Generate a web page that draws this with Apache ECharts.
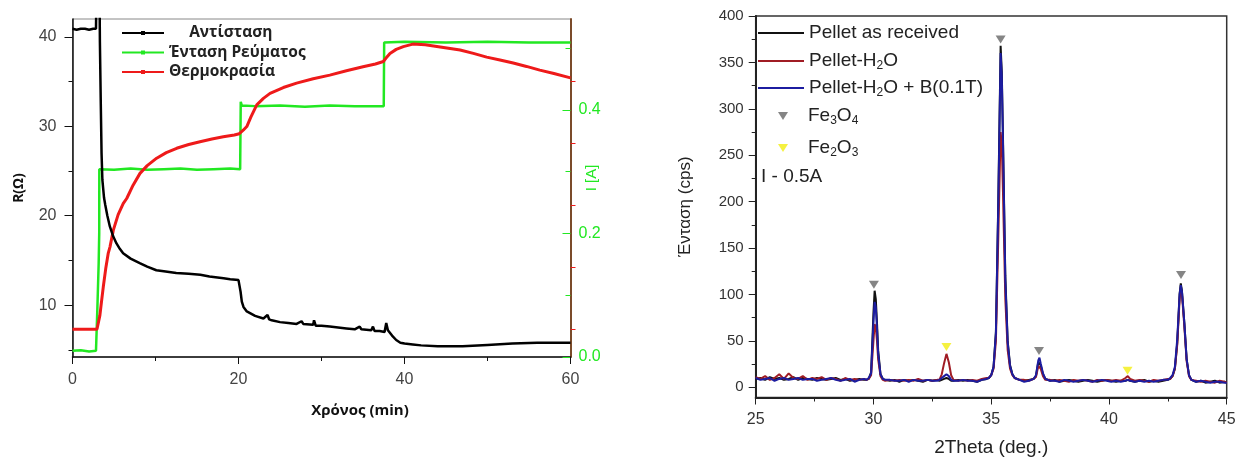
<!DOCTYPE html>
<html><head><meta charset="utf-8">
<script src="https://cdn.jsdelivr.net/npm/echarts@6/dist/echarts.min.js"></script>
<style>html,body{margin:0;padding:0;background:#fff}#c{width:1251px;height:459px}</style>
</head><body><div id="c"></div><script>
// ---------- Left panel data: [time (min), value] ----------
const resistance = [[0,40.9],[0.5,40.8],[1,40.9],[1.5,40.9],[2,40.8],[2.5,40.9],[2.83,40.9],[2.9,46],[3.25,46],[3.3,39.5],[3.4,33],[3.5,27],[3.6,24],[3.8,22],[3.95,21.2],[4.2,20],[4.5,18.8],[4.9,17.7],[5.3,16.9],[5.7,16.3],[6.1,15.8],[7,15.2],[8.1,14.7],[9,14.3],[10.1,13.9],[11,13.8],[12.5,13.6],[14,13.5],[15.4,13.4],[16.5,13.2],[18.2,13.0],[19,12.9],[20,12.8],[20.15,12.7],[20.25,11.5],[20.4,10.4],[20.6,9.8],[21,9.3],[22,8.8],[23,8.5],[23.5,8.9],[23.7,8.4],[24,8.3],[25,8.1],[26,8.0],[27,7.9],[27.6,8.2],[27.8,7.9],[28,7.8],[29,7.8],[29.1,8.3],[29.3,7.7],[30,7.7],[31,7.6],[32,7.5],[33,7.4],[34,7.3],[34.6,7.6],[34.8,7.3],[35,7.2],[36,7.2],[36.2,7.6],[36.4,7.1],[37,7.1],[37.6,7.0],[37.8,8.0],[38,7.2],[38.5,6.6],[39,6.1],[39.5,5.8],[40,5.7],[41,5.6],[42,5.5],[44,5.4],[47,5.4],[50,5.55],[53,5.7],[56,5.8],[58,5.8],[60,5.8]];
const current = [[0,0.01],[1,0.011],[2,0.009],[2.83,0.01],[3.0,0.08],[3.15,0.15],[3.22,0.2],[3.23,0.304],[5,0.303],[7,0.305],[9,0.303],[11,0.304],[13,0.305],[15,0.303],[17,0.304],[19,0.305],[20.2,0.304],[20.27,0.413],[20.4,0.407],[22,0.406],[25,0.407],[28,0.405],[31,0.407],[34,0.406],[37.5,0.406],[37.55,0.509],[40,0.51],[45,0.509],[50,0.51],[55,0.509],[60,0.509]];
const temperature = [[0,20],[1,20],[2,20],[2.95,20],[3.1,20.4],[3.3,24.5],[3.52,29.5],[3.71,33.7],[4.0,39.5],[4.31,44.6],[4.52,46.6],[4.92,52.0],[5.5,57],[6.12,60.6],[6.53,62.2],[7.3,66.5],[8.13,70.3],[9,72.8],[10.14,75.2],[11.3,77],[12.55,78.4],[14,79.6],[15.36,80.5],[16.8,81.4],[18.17,82.1],[19.5,82.7],[20.1,83.1],[20.3,83.5],[20.6,84.3],[21,85.4],[21.5,88.5],[22.2,92.4],[23,94.5],[23.8,96.1],[25.4,98],[27,99.4],[29,100.8],[31,102],[33,103.4],[35,104.7],[36.5,105.6],[37.45,106.4],[37.8,107.6],[38.25,109],[39,110.3],[39.86,111.2],[41,112],[42.5,111.8],[44.3,111.1],[46.7,110.1],[48.3,109],[49.9,107.8],[51.5,106.9],[53.1,105.9],[54.7,104.8],[56.3,103.6],[58,102.5],[60,101.1]];

// ---------- Right panel data (XRD) ----------
const twoTheta = [25.0,25.2,25.4,25.6,25.8,26.0,26.2,26.4,26.6,26.8,27.0,27.2,27.4,27.6,27.8,28.0,28.2,28.4,28.6,28.8,29.0,29.2,29.4,29.6,
  29.7,29.8,29.9,30.0,30.05,30.1,30.15,30.2,30.3,30.4,30.5,
  30.7,30.9,31.1,31.3,31.5,31.7,31.9,32.1,32.3,32.5,32.7,
  32.8,32.9,33.0,33.1,33.2,33.3,33.4,
  33.6,33.8,34.0,34.2,34.4,34.6,34.8,
  34.9,35.0,35.1,35.2,35.3,35.4,35.45,35.5,35.6,35.7,35.8,35.9,36.0,36.2,
  36.4,36.6,36.8,
  36.9,37.0,37.05,37.1,37.2,37.3,
  37.5,37.7,37.9,38.1,38.3,38.5,38.7,38.9,39.1,39.3,39.5,39.7,39.9,40.1,40.3,40.5,
  40.7,40.8,40.9,
  41.1,41.3,41.5,41.7,41.9,42.1,42.3,42.5,
  42.6,42.7,42.8,42.9,43.0,43.05,43.1,43.2,43.3,43.4,43.5,
  43.7,43.9,44.1,44.3,44.5,44.7,44.9,45.0];
const asReceived = [9,10,8,11,9,10,8,9,11,8,10,9,8,10,9,8,9,10,8,9,7,8,9,8,
  8,9,16,80,104,95,70,40,14,9,8,
  7,8,6,8,7,8,7,6,8,7,8,
  7,8,9,10,9,7,7,
  8,7,8,7,6,8,9,
  10,13,22,60,200,368,340,270,120,50,24,14,10,8,
  7,8,9,
  12,27,29,24,14,9,
  7,8,6,7,8,7,6,7,8,7,6,7,8,7,6,7,
  7,8,7,
  6,7,8,6,7,6,7,8,
  9,12,20,48,100,112,104,70,30,13,8,
  6,7,5,6,7,5,6,5];
const pelletH2O = [11,9,12,8,10,14,9,15,10,9,12,8,10,9,11,8,10,9,7,10,8,9,8,9,
  8,9,13,50,68,64,50,30,12,8,7,
  8,7,8,7,8,7,9,7,8,7,8,
  8,14,26,36,27,13,8,
  7,8,7,8,7,9,10,
  10,13,20,50,160,275,262,210,95,40,20,13,10,8,
  8,7,9,
  11,23,25,20,12,8,
  8,7,8,7,6,8,7,8,7,6,8,7,8,7,8,7,
  10,12,9,
  7,8,7,6,8,7,8,9,
  9,12,20,46,95,106,100,66,28,12,8,
  7,6,7,6,5,7,6,5];
const pelletH2OB = [10,8,9,10,7,9,10,8,9,10,8,9,9,7,8,9,10,8,7,8,9,6,8,9,
  8,10,15,70,92,86,64,36,14,9,8,
  8,7,7,8,6,8,7,7,8,7,7,
  8,10,12,14,12,8,7,
  7,8,7,7,6,8,9,
  10,13,22,58,195,360,335,265,115,48,23,14,10,8,
  6,7,9,
  13,29,32,26,15,9,
  7,7,6,8,7,6,7,8,7,6,7,8,7,6,7,6,
  7,8,7,
  6,7,6,7,6,7,8,8,
  10,13,22,52,100,110,103,70,30,13,8,
  6,7,6,5,6,6,5,5];
const fe3o4Peaks = [[30.02,110.6],[35.4,374.7],[37.03,39],[43.06,121]];
const fe2o3Peaks = [[33.1,43.5],[40.79,17.8]];

// tick labels
const rLabels = [10,20,30,40], rMinor = [5,15,25,35];
const iLabels = [0,0.2,0.4], iMinor = [0.1,0.3,0.5];
const tTicks = [20,40,60,80,100];
const cpsLabels = [0,50,100,150,200,250,300,350,400], cpsMinor = [25,75,125,175,225,275,325,375];

const zip = (xs, ys) => xs.map((x, i) => [x, ys[i]]);
const SANS = '"Liberation Sans", Arial, sans-serif';
const BOLD = '"Open Sans", "Noto Sans", sans-serif';
const GREEN = '#22e822', RED = '#ee1a1a', BROWN = '#7b4b2a';
const TRI = 'path://M0,0 L10,0 L5,8 Z';

const chart = echarts.init(document.getElementById('c'));
const rich = {n:{fontSize:19,lineHeight:22,fontFamily:SANS,color:'#222'},
              s:{fontSize:12,lineHeight:12,verticalAlign:'bottom',fontFamily:SANS,color:'#222'},
              p:{width:15}};
const legendName = {
  'Pellet as received':'{n|Pellet as received}',
  'Pellet-H2O':'{n|Pellet-H}{s|2}{n|O}',
  'Pellet-H2O + B(0.1T)':'{n|Pellet-H}{s|2}{n|O + B(0.1T)}',
  'Fe3O4':'{p|}{n|Fe}{s|3}{n|O}{s|4}',
  'Fe2O3':'{p|}{n|Fe}{s|2}{n|O}{s|3}'
};
function lineLegend(name, top){
  return {data:[name], left:757, top:top, padding:0, itemWidth:46, itemHeight:12,
    itemStyle:{opacity:0}, formatter:n=>legendName[n], textStyle:{rich:rich}, selectedMode:false};
}
function markLegend(name, top){
  return {data:[name], left:778, top:top, padding:0, itemWidth:10, itemHeight:8,
    formatter:n=>legendName[n], textStyle:{rich:rich}, selectedMode:false};
}
chart.setOption({
  animation:false,
  backgroundColor:'#fff',
  grid:[
    {left:72.5, top:19, width:498, height:338, show:true, borderColor:'#888', borderWidth:1, outerBoundsMode:'none', containLabel:false},
    {left:755.7, top:16, width:471, height:381.5, show:true, borderColor:'#333', borderWidth:1.5, outerBoundsMode:'none', containLabel:false}
  ],
  legend:[
    {data:['Αντίσταση','Ένταση Ρεύματος','Θερμοκρασία'], orient:'vertical', left:121, top:25, padding:0,
     itemWidth:42, itemHeight:5, itemGap:3.5, selectedMode:false,
     formatter:n=> n==='Αντίσταση' ? '     '+n : n,
     textStyle:{fontFamily:BOLD, fontWeight:'bold', fontSize:15.5, color:'#222'}},
    lineLegend('Pellet as received', 23.5),
    lineLegend('Pellet-H2O', 51.5),
    lineLegend('Pellet-H2O + B(0.1T)', 78.5),
    markLegend('Fe3O4', 106.5),
    markLegend('Fe2O3', 138.5)
  ],
  graphic:[{type:'text', left:761, top:167, style:{text:'I - 0.5A', font:'19px '+SANS, fill:'#222'}}],
  xAxis:[
    {gridIndex:0, type:'value', min:0, max:60, interval:20,
     name:'Χρόνος (min)', nameLocation:'middle', nameGap:46, nameMoveOverlap:false,
     nameTextStyle:{fontFamily:BOLD, fontWeight:'bold', fontSize:15, color:'#111', padding:[0,0,0,77]},
     axisLine:{onZero:false, lineStyle:{color:'#111', width:1.5}},
     axisTick:{length:7, lineStyle:{color:'#111'}},
     minorTick:{show:true, splitNumber:2, length:4, lineStyle:{color:'#111'}},
     axisLabel:{fontFamily:SANS, fontSize:16, color:'#444', margin:15},
     splitLine:{show:false}},
    {gridIndex:1, type:'value', min:25, max:45, interval:5,
     name:'2Theta (deg.)', nameLocation:'middle', nameGap:41, nameMoveOverlap:false,
     nameTextStyle:{fontFamily:SANS, fontSize:19, color:'#222'},
     axisLine:{onZero:false, lineStyle:{color:'#222', width:2}},
     axisTick:{length:7, lineStyle:{color:'#222'}},
     minorTick:{show:true, splitNumber:2, length:4, lineStyle:{color:'#222'}},
     axisLabel:{fontFamily:SANS, fontSize:16, color:'#333', margin:14},
     splitLine:{show:false}}
  ],
  yAxis:[
    {gridIndex:0, type:'value', position:'left', min:4.2, max:42,
     name:'R(Ω)', nameLocation:'middle', nameGap:46, nameRotate:90, nameMoveOverlap:false,
     nameTextStyle:{fontFamily:BOLD, fontWeight:'bold', fontSize:14, color:'#111'},
     axisLine:{show:true, onZero:false, lineStyle:{color:'#111', width:1.5}},
     axisTick:{show:true, length:8, customValues:rLabels, lineStyle:{color:'#111'}},
     axisLabel:{customValues:rLabels, fontFamily:SANS, fontSize:16, color:'#444', margin:16},
     splitLine:{show:false}},
    {gridIndex:0, type:'value', position:'right', min:0, max:0.547,
     name:'I [A]', nameLocation:'middle', nameGap:14, nameRotate:90, nameMoveOverlap:false,
     nameTextStyle:{fontFamily:SANS, fontSize:15, color:GREEN, padding:[0,0,0,20]},
     axisLine:{show:true, onZero:false, lineStyle:{color:BROWN, width:2}},
     axisTick:{show:true, inside:true, length:8, customValues:iLabels, lineStyle:{color:GREEN}},
     axisLabel:{customValues:iLabels, formatter:v=>v.toFixed(1), fontFamily:SANS, fontSize:16, color:GREEN, margin:8},
     splitLine:{show:false}},
    {gridIndex:0, type:'value', position:'right', min:11.06, max:120.1,
     axisLine:{show:false, onZero:false}, axisLabel:{show:false},
     axisTick:{show:true, length:5, customValues:tTicks, lineStyle:{color:RED}},
     splitLine:{show:false}},
    {gridIndex:1, type:'value', position:'left', min:-11, max:400,
     name:'Ένταση (cps)', nameLocation:'middle', nameGap:62, nameRotate:90, nameMoveOverlap:false,
     nameTextStyle:{fontFamily:SANS, fontSize:17, color:'#222'},
     axisLine:{show:true, onZero:false, lineStyle:{color:'#222', width:2}},
     axisTick:{show:true, length:7, customValues:cpsLabels, lineStyle:{color:'#222'}},
     axisLabel:{customValues:cpsLabels, fontFamily:SANS, fontSize:15, color:'#333', margin:12},
     splitLine:{show:false}},
    {gridIndex:0, type:'value', position:'left', min:4.2, max:42,
     axisLine:{show:false, onZero:false}, axisLabel:{show:false}, splitLine:{show:false},
     axisTick:{show:true, length:4, customValues:rMinor, lineStyle:{color:'#111'}}},
    {gridIndex:0, type:'value', position:'right', min:0, max:0.547,
     axisLine:{show:false, onZero:false}, axisLabel:{show:false}, splitLine:{show:false},
     axisTick:{show:true, inside:true, length:5, customValues:iMinor, lineStyle:{color:GREEN}}},
    {gridIndex:1, type:'value', position:'left', min:-11, max:400,
     axisLine:{show:false, onZero:false}, axisLabel:{show:false}, splitLine:{show:false},
     axisTick:{show:true, length:4, customValues:cpsMinor, lineStyle:{color:'#222'}}}
  ],
  series:[
    {name:'Ένταση Ρεύματος', type:'line', xAxisIndex:0, yAxisIndex:1, data:current,
     symbol:'rect', symbolSize:4, showSymbol:false, color:GREEN, lineStyle:{width:2.5, color:GREEN}},
    {name:'Θερμοκρασία', type:'line', xAxisIndex:0, yAxisIndex:2, data:temperature,
     symbol:'rect', symbolSize:4, showSymbol:false, color:RED, lineStyle:{width:3, color:RED}},
    {name:'Αντίσταση', type:'line', xAxisIndex:0, yAxisIndex:0, data:resistance,
     symbol:'rect', symbolSize:4, showSymbol:false, color:'#000', lineStyle:{width:2.5, color:'#000'}},
    {name:'Pellet as received', type:'line', xAxisIndex:1, yAxisIndex:3, data:zip(twoTheta, asReceived),
     symbol:'none', color:'#111', lineStyle:{width:2, color:'#111'}},
    {name:'Pellet-H2O', type:'line', xAxisIndex:1, yAxisIndex:3, data:zip(twoTheta, pelletH2O),
     symbol:'none', color:'#a01c24', lineStyle:{width:2, color:'#a01c24'}},
    {name:'Pellet-H2O + B(0.1T)', type:'line', xAxisIndex:1, yAxisIndex:3, data:zip(twoTheta, pelletH2OB),
     symbol:'none', color:'#1c1ca0', lineStyle:{width:2, color:'#1c1ca0'}},
    {name:'Fe3O4', type:'scatter', xAxisIndex:1, yAxisIndex:3, data:fe3o4Peaks,
     symbol:TRI, symbolSize:[10,8], color:'#666'},
    {name:'Fe2O3', type:'scatter', xAxisIndex:1, yAxisIndex:3, data:fe2o3Peaks,
     symbol:TRI, symbolSize:[10,8], color:'#f2ee10'}
  ]
});
</script></body></html>
